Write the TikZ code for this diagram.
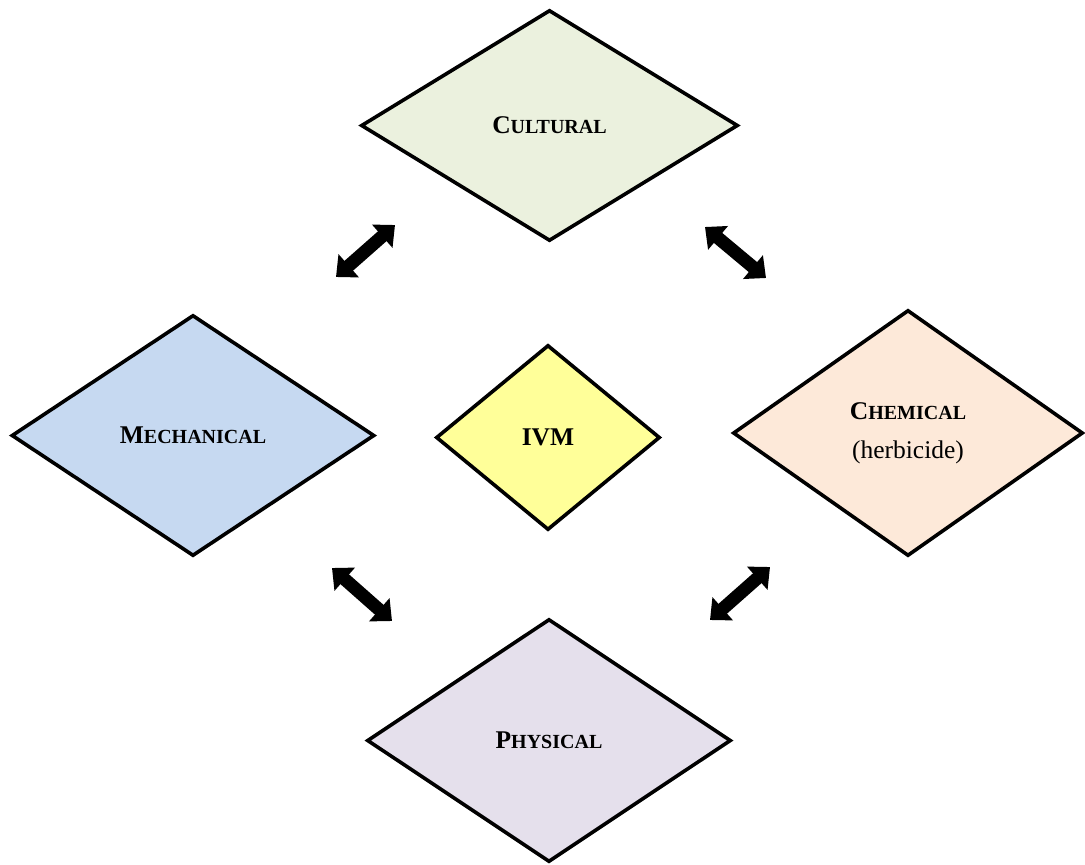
\documentclass[tikz,border=0pt]{standalone}
\usepackage{fontspec}
\setmainfont{Liberation Serif}
\usetikzlibrary{shapes.geometric,arrows.meta}
\definecolor{cultfill}{HTML}{EBF1DE}
\definecolor{mechfill}{HTML}{C6D9F1}
\definecolor{ivmfill}{HTML}{FFFF99}
\definecolor{chemfill}{HTML}{FDE9D9}
\definecolor{physfill}{HTML}{E5E0EC}
\newcommand{\fakesc}[2]{#1{\fontsize{20}{39}\selectfont #2}}
\tikzset{
    method/.style={diamond,draw=black,line width=3.6pt,inner sep=0pt,
      font=\fontsize{25.5}{39}\selectfont\bfseries,align=center},
    twoway/.style={line width=13pt,{Triangle[width=30pt,length=17pt]}-{Triangle[width=30pt,length=17pt]}},
  }
\begin{document}
\begin{tikzpicture}[x=1pt,y=-1pt]
				  \useasboundingbox (0,0) rectangle (1085,865);
				  %les cinq losanges
				  \node[method,fill=cultfill,minimum width=377pt,minimum height=231pt] (cult) at (549.5,125.5) {\fakesc{C}{ULTURAL}};
				  \node[method,fill=mechfill,minimum width=363pt,minimum height=241pt] (mech) at (193,435.5) {\fakesc{M}{ECHANICAL}};
				  \node[method,fill=ivmfill,minimum width=224pt,minimum height=185pt] (ivm) at (548,437.5) {IVM};
				  \node[method,fill=chemfill,minimum width=350pt,minimum height=246pt] (chem) at (908,433) {\fakesc{C}{HEMICAL}\\ \mdseries (herbicide)};
				  \node[method,fill=physfill,minimum width=364pt,minimum height=243pt] (phys) at (549,740.5) {\fakesc{P}{HYSICAL}};
				  %fleches
				  \coordinate (cm1) at (336,277);
				  \coordinate (cm2) at (395,225);
				  \coordinate (cc1) at (705,227);
				  \coordinate (cc2) at (766,278);
				  \coordinate (mp1) at (332,568);
				  \coordinate (mp2) at (392,621);
				  \coordinate (pc1) at (710,620);
				  \coordinate (pc2) at (770,567);
				  \draw[twoway] (cm1) -- (cm2);
				  \draw[twoway] (cc1) -- (cc2);
				  \draw[twoway] (mp1) -- (mp2);
				  \draw[twoway] (pc1) -- (pc2);
				  \end{tikzpicture}
\end{document}
